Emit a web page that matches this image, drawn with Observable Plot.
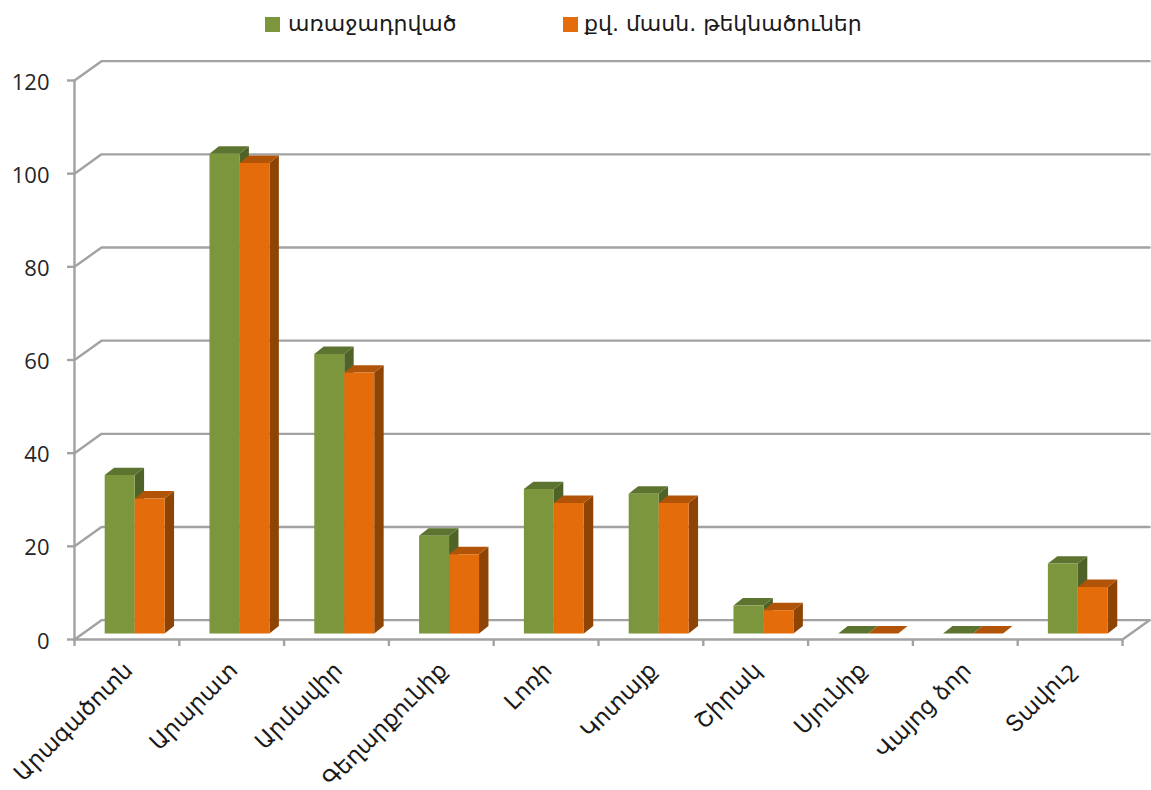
<!DOCTYPE html>
<html>
<head>
<meta charset="utf-8">
<script src="https://cdn.jsdelivr.net/npm/d3@7"></script>
<script src="https://cdn.jsdelivr.net/npm/@observablehq/plot@0.6"></script>
<style>
html,body{margin:0;padding:0;background:#fff}
#legend{position:relative;height:50px;width:1151px;font-family:"DejaVu Sans",sans-serif;font-size:22px;color:#1a1a1a}
#legend i{position:absolute;top:17px;width:15px;height:15px}
#legend span{position:absolute;top:11px;white-space:nowrap}
</style>
</head>
<body>
<div id="legend"></div>
<div id="chart"></div>
<script>
const categories = ["Արագածոտն","Արարատ","Արմավիր","Գեղարքունիք","Լոռի","Կոտայք","Շիրակ","Սյունիք","Վայոց ձոր","Տավուշ"];
const proposed = [34,103,60,21,31,30,6,0,0,15];
const admitted = [29,101,56,17,28,28,5,0,0,10];
const seriesNames = ["առաջադրված","քվ. մասն. թեկնածուներ"];
const yTicks = [0,20,40,60,80,100,120];

const seriesStyles = [
  {front:"#7c963e", top:"#5c7430", side:"#4f6329", offset:0.288},
  {front:"#e46c0a", top:"#b25407", side:"#8e4404", offset:0.574}
];
const barWidth = 0.286, wallDx = 0.2576, wallDy = 4.15, barDx = 0.09, barDy = 1.6, baseDy = 1.29;

const faces = [];
function addFace(id, fill, pts){ pts.forEach(([x,y]) => faces.push({id, fill, x, y})); }
[proposed, admitted].forEach((values, s) => {
  const st = seriesStyles[s];
  values.forEach((v, i) => {
    const x0 = i + st.offset, x1 = x0 + barWidth, y0 = baseDy, top = v + baseDy;
    addFace(`${s}-${i}-side`, st.side, [[x1,y0],[x1+barDx,y0+barDy],[x1+barDx,top+barDy],[x1,top]]);
    addFace(`${s}-${i}-top`, st.top, [[x0,top],[x0+barDx,top+barDy],[x1+barDx,top+barDy],[x1,top]]);
    addFace(`${s}-${i}-front`, st.front, [[x0,y0],[x1,y0],[x1,top],[x0,top]]);
  });
});

const wall = [];
yTicks.forEach(t => {
  wall.push({id:t, x:0, y:t},{id:t, x:wallDx, y:t+wallDy},{id:t, x:10+wallDx, y:t+wallDy});
});
wall.push({id:"axis",x:0,y:0},{id:"axis",x:0,y:120});
wall.push({id:"floor",x:0,y:0},{id:"floor",x:10,y:0},{id:"floor",x:10+wallDx,y:wallDy});

const gray = "#a2a2a2";
const plot = Plot.plot({
  width:1151, height:740,
  marginTop:30, marginBottom:151, marginLeft:74, marginRight:29,
  style:{overflow:"visible", background:"transparent"},
  x:{domain:[0,10], axis:null},
  y:{domain:[0,120], axis:null},
  color:{type:"identity"},
  marks:[
    Plot.line(wall,{x:"x",y:"y",z:"id",stroke:gray,strokeWidth:2.4,curve:"linear"}),
    Plot.axisY({ticks:yTicks,tickSize:7,stroke:gray,strokeWidth:2.4,fill:null,label:null}),
    Plot.axisY({ticks:yTicks,tickSize:0,tickPadding:25,dy:2,fill:"#262626",fontSize:22,label:null,
      fontFamily:"'Open Sans',sans-serif"}),
    Plot.axisX({ticks:d3.range(0,11),tickSize:7,stroke:gray,strokeWidth:2.4,fill:null,label:null,anchor:"bottom"}),
    Plot.line(faces,{x:"x",y:"y",z:"id",fill:"fill",stroke:null,curve:"linear"}),
    Plot.text(categories,{x:(d,i)=>i+0.5,y:()=>0,text:d=>d,rotate:-45,textAnchor:"end",dx:2,dy:27,fontSize:22.8,
      fill:"#1a1a1a",fontFamily:"'DejaVu Sans',sans-serif"})
  ]
});
document.getElementById("chart").appendChild(plot);

const legend = document.getElementById("legend");
[[265,288],[563,584]].forEach(([sq,tx],i)=>{
  const b=document.createElement("i"); b.style.left=sq+"px"; b.style.background=seriesStyles[i].front; legend.appendChild(b);
  const t=document.createElement("span"); t.style.left=tx+"px"; t.textContent=seriesNames[i]; legend.appendChild(t);
});
</script>
</body>
</html>
